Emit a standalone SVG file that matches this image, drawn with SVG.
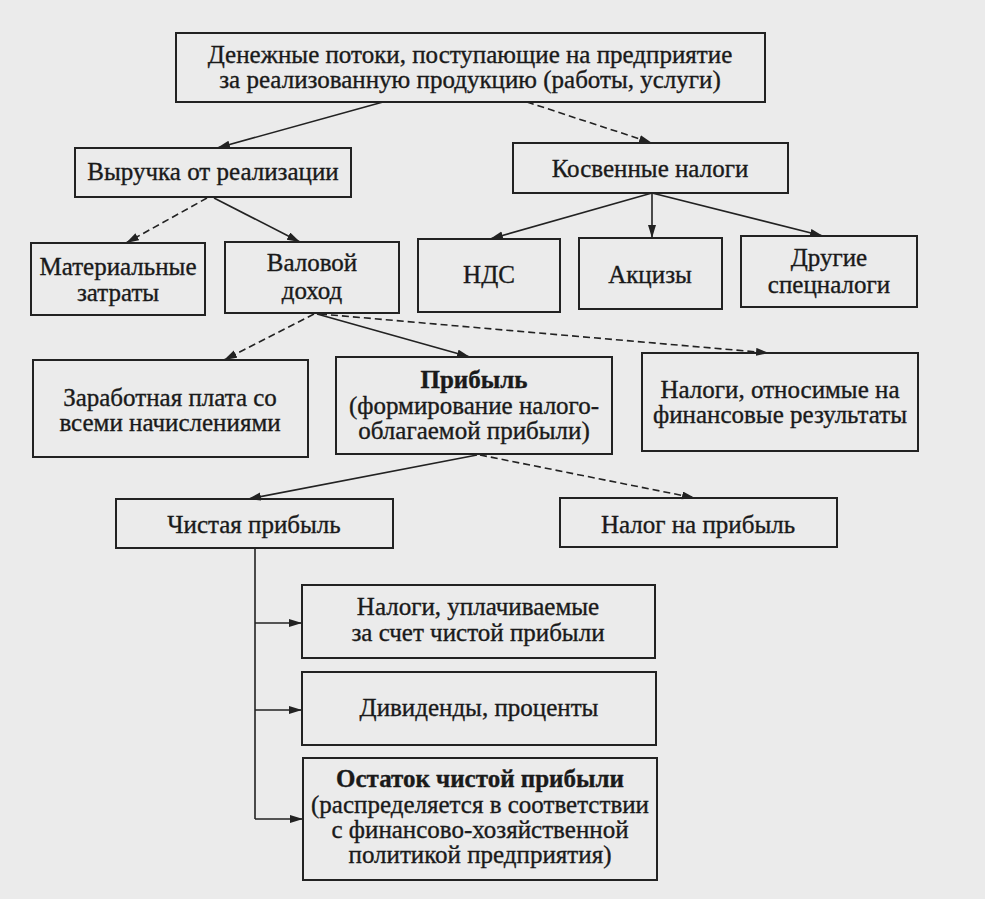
<svg xmlns="http://www.w3.org/2000/svg" width="985" height="899" viewBox="0 0 985 899">
<defs>
<marker id="ah" markerUnits="userSpaceOnUse" markerWidth="14" markerHeight="10" refX="13" refY="4" orient="auto">
<path d="M0,0 L13,4 L0,8 z" fill="#222"/>
</marker>
<style>
.box{fill:none;stroke:#222;stroke-width:2}
.t{font-family:"Liberation Serif","Times New Roman",serif;font-size:25px;fill:#1a1a1a;stroke:#1a1a1a;stroke-width:0.35;text-anchor:middle}
.b{font-weight:bold}
.c{fill:none;stroke:#222;stroke-width:1.6}
.s{marker-end:url(#ah)}
.d{stroke-dasharray:7 4}
</style>
</defs>
<rect width="985" height="899" fill="#ebebeb"/>
<g id="connectors">
<line class="c s" x1="383" y1="102" x2="217" y2="148"/>
<line class="c s d" x1="527" y1="102" x2="652" y2="143"/>
<line class="c s d" x1="207" y1="198" x2="126" y2="243"/>
<line class="c s" x1="214" y1="198" x2="300" y2="242"/>
<line class="c s" x1="652" y1="193" x2="490" y2="239"/>
<line class="c s" x1="652" y1="193" x2="652" y2="238"/>
<line class="c s" x1="652" y1="193" x2="823" y2="236"/>
<line class="c s d" x1="314" y1="314" x2="224" y2="360"/>
<line class="c s" x1="317" y1="314" x2="470" y2="357"/>
<line class="c s d" x1="320" y1="314" x2="769" y2="353"/>
<line class="c s" x1="477" y1="455" x2="248" y2="499"/>
<line class="c s d" x1="480" y1="455" x2="695" y2="498"/>
<polyline class="c" points="255,548 255,819"/>
<line class="c s" x1="255" y1="623" x2="302" y2="623"/>
<line class="c s" x1="255" y1="710" x2="302" y2="710"/>
<line class="c s" x1="255" y1="819" x2="303" y2="819"/>
</g>
<g id="n-top"><rect class="box" x="176" y="33" width="589" height="69"/>
<text class="t" x="470" y="63">Денежные потоки, поступающие на предприятие</text>
<text class="t" x="470" y="88">за реализованную продукцию (работы, услуги)</text></g>
<g id="n-revenue"><rect class="box" x="75" y="148" width="276" height="49"/>
<text class="t" x="213" y="180">Выручка от реализации</text></g>
<g id="n-indirect"><rect class="box" x="513" y="143" width="275" height="50"/>
<text class="t" x="650" y="177">Косвенные налоги</text></g>
<g id="n-material"><rect class="box" x="31" y="243" width="174" height="72"/>
<text class="t" x="118" y="275">Материальные</text>
<text class="t" x="118" y="301">затраты</text></g>
<g id="n-gross"><rect class="box" x="225" y="242" width="174" height="71"/>
<text class="t" x="312" y="271">Валовой</text>
<text class="t" x="312" y="299">доход</text></g>
<g id="n-vat"><rect class="box" x="418" y="239" width="142" height="73"/>
<text class="t" x="489" y="283">НДС</text></g>
<g id="n-excise"><rect class="box" x="579" y="238" width="143" height="71"/>
<text class="t" x="650" y="283">Акцизы</text></g>
<g id="n-other"><rect class="box" x="741" y="236" width="176" height="71"/>
<text class="t" x="829" y="266">Другие</text>
<text class="t" x="829" y="293">спецналоги</text></g>
<g id="n-wages"><rect class="box" x="33" y="360" width="275" height="97"/>
<text class="t" x="170" y="406">Заработная плата со</text>
<text class="t" x="170" y="431">всеми начислениями</text></g>
<g id="n-profit"><rect class="box" x="336" y="357" width="276" height="97"/>
<text class="t b" x="474" y="388">Прибыль</text>
<text class="t" x="474" y="414">(формирование налого-</text>
<text class="t" x="474" y="439">облагаемой прибыли)</text></g>
<g id="n-fintax"><rect class="box" x="642" y="353" width="276" height="98"/>
<text class="t" x="780" y="398">Налоги, относимые на</text>
<text class="t" x="780" y="423">финансовые результаты</text></g>
<g id="n-net"><rect class="box" x="116" y="499" width="277" height="49"/>
<text class="t" x="254" y="533">Чистая прибыль</text></g>
<g id="n-profittax"><rect class="box" x="560" y="498" width="277" height="49"/>
<text class="t" x="698" y="533">Налог на прибыль</text></g>
<g id="n-nettax"><rect class="box" x="302" y="585" width="353" height="73"/>
<text class="t" x="478" y="615">Налоги, уплачиваемые</text>
<text class="t" x="478" y="641">за счет чистой прибыли</text></g>
<g id="n-dividends"><rect class="box" x="302" y="672" width="354" height="73"/>
<text class="t" x="479" y="716">Дивиденды, проценты</text></g>
<g id="n-rest"><rect class="box" x="303" y="758" width="354" height="122"/>
<text class="t b" x="480" y="787">Остаток чистой прибыли</text>
<text class="t" x="480" y="813">(распределяется в соответствии</text>
<text class="t" x="480" y="838">с финансово-хозяйственной</text>
<text class="t" x="480" y="863">политикой предприятия)</text></g>
</svg>
